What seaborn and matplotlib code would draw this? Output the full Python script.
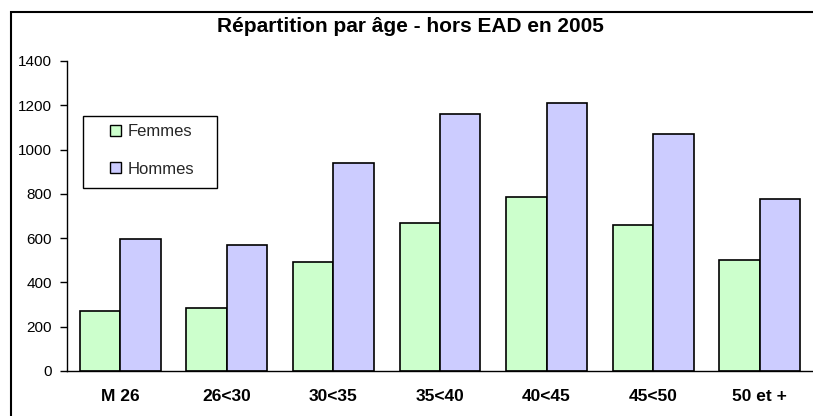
import matplotlib
matplotlib.use("Agg")
import matplotlib.pyplot as plt
from matplotlib.patches import Rectangle
import seaborn as sns
import pandas as pd

categories = ["M 26", "26<30", "30<35", "35<40", "40<45", "45<50", "50 et +"]
femmes = [271, 285, 492, 667, 786, 661, 500]
hommes = [596, 569, 939, 1161, 1210, 1070, 777]
series = ["Femmes", "Hommes"]
colors = ["#CCFFCC", "#CCCCFF"]
title = "Répartition par âge - hors EAD en 2005"

df = pd.DataFrame({
    "cat": categories * 2,
    "val": femmes + hommes,
    "serie": [series[0]] * len(categories) + [series[1]] * len(categories),
})

sns.set_theme(style="white")
plt.rcParams["font.family"] = ["Liberation Sans", "DejaVu Sans"]

W, H = 813, 416
fig = plt.figure(figsize=(W / 100, H / 100), dpi=100)
ax = fig.add_axes([67 / W, (H - 371) / H, (813 - 67) / W, (371 - 61) / H])

sns.barplot(data=df, x="cat", y="val", hue="serie", order=categories,
            hue_order=series, palette=colors, width=0.76, gap=0,
            edgecolor="black", linewidth=1.2, saturation=1, ax=ax, legend=True)

ax.set_xlim(-0.5, 6.5)
ax.set_ylim(0, 1400)
ax.set_yticks(range(0, 1401, 200))
ax.set_xlabel("")
ax.set_ylabel("")
for s in ["top", "right"]:
    ax.spines[s].set_visible(False)
for s in ["left", "bottom"]:
    ax.spines[s].set_color("black")
    ax.spines[s].set_linewidth(1.0)
ax.tick_params(axis="y", left=True, length=5, width=1, color="black",
               labelsize=11, pad=6, labelcolor="black")
ax.tick_params(axis="x", bottom=False, labelsize=12.5, pad=7, labelcolor="black")
for lab in ax.get_xticklabels():
    lab.set_fontweight("bold")
ax.grid(False)

leg = ax.legend(loc="upper left", bbox_to_anchor=(110 / W, 1 - 124 / H),
                bbox_transform=fig.transFigure, frameon=False,
                fontsize=12, handlelength=0.65, handleheight=0.65,
                handletextpad=0.4, labelspacing=1.35,
                borderpad=0, borderaxespad=0, title=None)
for h in leg.legend_handles:
    h.set_edgecolor("black")
    h.set_linewidth(1.0)

# legend frame
fig.patches.append(Rectangle((83 / W, 1 - 188 / H), (217 - 83) / W, (188 - 116) / H,
                             transform=fig.transFigure, fill=False,
                             edgecolor="black", linewidth=1.0, zorder=5))

fig.text(410 / W, 1 - 27 / H, title, ha="center", va="center",
         fontsize=15, fontweight="bold", color="black")

fig.patches.append(Rectangle((11 / W, -0.1), 1.2, 1 - 12 / H + 0.1,
                             transform=fig.transFigure, fill=False,
                             edgecolor="black", linewidth=1.5, zorder=10))

fig.savefig("out.png", dpi=100, facecolor="white")
